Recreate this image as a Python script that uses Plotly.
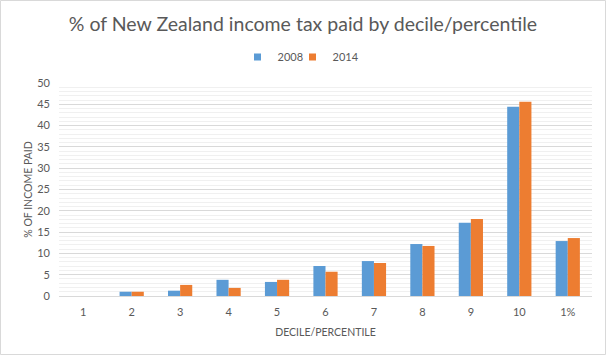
import plotly.graph_objects as go

categories = ["1", "2", "3", "4", "5", "6", "7", "8", "9", "10", "1%"]
values_2008 = [0, 1.0, 1.25, 3.8, 3.3, 7.05, 8.2, 12.2, 17.2, 44.4, 12.9]
values_2014 = [0, 1.0, 2.6, 1.9, 3.8, 5.7, 7.75, 11.75, 18.1, 45.6, 13.6]
series_names = ["2008", "2014"]
series_colors = ["#5B9BD5", "#ED7D31"]

FONT = "Lato, Open Sans, Arial"
GRAY = "#595959"

fig = go.Figure()
legend_ids = ["legend", "legend2"]
for name, vals, col, lid in zip(series_names, [values_2008, values_2014], series_colors, legend_ids):
    fig.add_trace(go.Bar(name=name, x=categories, y=vals, marker_color=col,
                         marker_line_width=0, showlegend=False, legendgroup=name))
    # compact legend entry with a small square swatch
    fig.add_trace(go.Scatter(name=name, x=[None], y=[None], mode="markers",
                             marker=dict(symbol="square", size=7, color=col),
                             showlegend=True, legendgroup=name, legend=lid, hoverinfo="skip"))

legend_style = dict(orientation="h", xanchor="left", y=1.122, yanchor="middle",
                    font=dict(size=11, color=GRAY), itemwidth=30, itemsizing="trace",
                    bgcolor="rgba(0,0,0,0)")

fig.update_layout(
    width=606, height=355,
    paper_bgcolor="white", plot_bgcolor="white",
    margin=dict(l=59, r=14, t=83, b=59),
    barmode="group", bargap=0.5, bargroupgap=0,
    font=dict(family=FONT, color=GRAY, size=12),
    title=dict(text="% of New Zealand income tax paid by decile/percentile",
               x=0.5, xanchor="center", y=0.933, yanchor="middle",
               font=dict(family=FONT, size=19.5, color=GRAY)),
    legend=dict(x=(237.5 - 59) / 533, **legend_style),
    legend2=dict(x=(292.5 - 59) / 533, **legend_style),
    showlegend=True,
)
fig.update_xaxes(type="category", showgrid=False, showline=True, linecolor="#d9d9d9",
                 ticks="", ticklabelstandoff=6, tickfont=dict(size=11, color=GRAY),
                 title=dict(text="DECILE/PERCENTILE", font=dict(size=10.5, color=GRAY), standoff=11))
fig.update_yaxes(range=[0, 50], dtick=5, showgrid=True, gridcolor="#d9d9d9", gridwidth=1,
                 zeroline=False, showline=False, ticks="", ticklabelstandoff=8,
                 tickfont=dict(size=11, color=GRAY),
                 minor=dict(dtick=1, showgrid=True, gridcolor="#f0f0f0", gridwidth=1),
                 title=dict(text="% OF INCOME PAID", font=dict(size=10.5, color=GRAY), standoff=2))
fig.add_shape(type="rect", xref="paper", yref="paper", x0=-58.5/533, x1=1+13.5/533, y0=-58.5/213, y1=1+82.5/213,
              line=dict(color="#d9d9d9", width=1), fillcolor="rgba(0,0,0,0)", layer="below")

fig.write_html("out.html", config={"displayModeBar": False},
               post_script="document.body.style.margin='0';")
